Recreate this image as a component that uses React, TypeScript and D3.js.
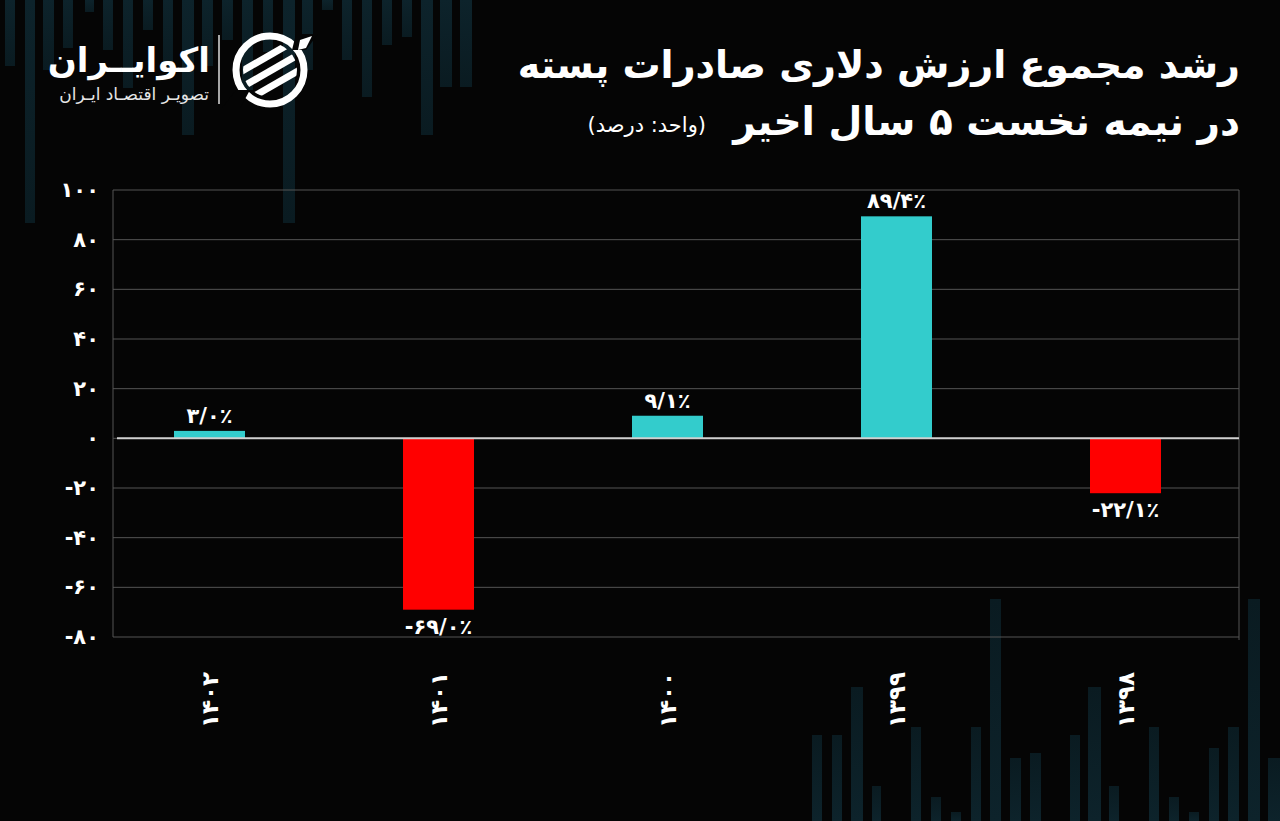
import React from "react";
import * as d3 from "d3";

const categories = ["۱۴۰۲", "۱۴۰۱", "۱۴۰۰", "۱۳۹۹", "۱۳۹۸"];
const values = [3.0, -69.0, 9.1, 89.4, -22.1];
const valueLabels = ["۳/۰٪", "-۶۹/۰٪", "۹/۱٪", "۸۹/۴٪", "-۲۲/۱٪"];
const yTicks = [100, 80, 60, 40, 20, 0, -20, -40, -60, -80];

const titleLine1 = "رشد مجموع ارزش دلاری صادرات پسته";
const titleLine2 = "در نیمه نخست ۵ سال اخیر";
const unitText = "(واحد: درصد)";
const brandName = "اکوایــران";
const brandSub = "تصویـر اقتصـاد ایـران";

// decorative background stripes: [x, width, extent]
const topStripes: [number, number, number][] = [
  [5, 10, 66], [25, 10, 223], [43, 11, 70], [63, 10, 48], [85, 9, 12],
  [103, 10, 50], [123, 10, 88], [143, 10, 30], [163, 10, 67], [182, 12, 135],
  [202, 11, 66], [222, 11, 40], [242, 11, 90], [263, 10, 52], [283, 12, 223],
  [302, 11, 70], [322, 11, 10], [342, 10, 60], [362, 10, 97], [382, 10, 45],
  [402, 10, 37], [421, 12, 135], [440, 12, 87], [460, 12, 87],
];
const bottomStripes: [number, number, number][] = [
  [812, 10, 735], [832, 10, 735], [851, 12, 687], [872, 9, 786], [911, 10, 727],
  [931, 10, 797], [951, 10, 812], [971, 10, 727], [990, 11, 599], [1010, 11, 758],
  [1030, 11, 753], [1070, 10, 735], [1088, 13, 687], [1109, 10, 786], [1149, 10, 727],
  [1169, 10, 797], [1189, 10, 812], [1209, 10, 748], [1228, 11, 727], [1248, 12, 599],
  [1268, 12, 758],
];

const toFa = (s: string) => s.replace(/\d/g, (d) => "۰۱۲۳۴۵۶۷۸۹"[+d]);

const W = 1280;
const H = 821;
const plotLeft = 113;
const plotRight = 1239;
const plotTop = 190;
const plotBottom = 637;

const FONT = "'DejaVu Sans', sans-serif";

export default function App() {
  const y = d3.scaleLinear().domain([-80, 100]).range([plotBottom, plotTop]);
  const x = d3.scaleBand<string>().domain(categories).range([95, 1240]).padding(0);
  const barW = x.bandwidth() * 0.31;

  return (
    <svg
      width={W}
      height={H}
      style={{ position: "absolute", left: 0, top: 0, background: "#050505" }}
    >
      <rect x={0} y={0} width={W} height={H} fill="#050505" />
      <defs>
        <linearGradient id="stripeTop" x1="0" y1="0" x2="0" y2="1">
          <stop offset="0" stopColor="#0d232b" />
          <stop offset="1" stopColor="#0a1b21" />
        </linearGradient>
        <linearGradient id="stripeBottom" x1="0" y1="1" x2="0" y2="0">
          <stop offset="0" stopColor="#0d232b" />
          <stop offset="1" stopColor="#0a1b21" />
        </linearGradient>
        <clipPath id="innerClip">
          <circle cx={270} cy={70} r={27} />
        </clipPath>
      </defs>

      {topStripes.map(([sx, sw, len], i) => (
        <rect key={"t" + i} x={sx} y={0} width={sw} height={len} fill="url(#stripeTop)" />
      ))}
      {bottomStripes.map(([sx, sw, top], i) => (
        <rect key={"b" + i} x={sx} y={top} width={sw} height={H - top} fill="url(#stripeBottom)" />
      ))}

      {/* brand */}
      <g>
        <text
          x={210}
          y={72}
          textAnchor="start"
          direction="rtl"
          fill="#fff"
          fontFamily={FONT}
          fontWeight="bold"
          fontSize={34}
        >
          {brandName}
        </text>
        <text
          x={209}
          y={100}
          textAnchor="start"
          direction="rtl"
          fill="#e6e6e6"
          fontFamily={FONT}
          fontSize={17}
        >
          {brandSub}
        </text>
        <line x1={219} x2={219} y1={35} y2={104} stroke="#ddd" strokeWidth={1.5} />
        {/* icon */}
        <circle cx={270} cy={70} r={34} fill="none" stroke="#fff" strokeWidth={7} />
        <g clipPath="url(#innerClip)">
          {[-16, 0, 16].map((o, i) => (
            <polygon
              key={i}
              points={`${230},${90 + o} ${310},${44 + o} ${310},${52 + o} ${230},${98 + o}`}
              fill="#fff"
            />
          ))}
        </g>
        <polygon points="296,34 318,34 306,50 292,50" fill="#050505" />
        <polygon points="236,90 250,90 240,108 222,108" fill="#050505" />
        <polygon points="300,40 312,36 306,48 298,50" fill="#fff" />
      </g>

      {/* title */}
      <text
        x={1240}
        y={78}
        textAnchor="start"
        direction="rtl"
        fill="#fff"
        fontFamily={FONT}
        fontWeight="bold"
        fontSize={38}
      >
        {titleLine1}
      </text>
      <text
        x={1240}
        y={135}
        textAnchor="start"
        direction="rtl"
        fill="#fff"
        fontFamily={FONT}
        fontWeight="bold"
        fontSize={39}
      >
        {titleLine2}
      </text>
      <text
        x={706}
        y={132}
        textAnchor="start"
        direction="rtl"
        fill="#fff"
        fontFamily={FONT}
        fontSize={21}
      >
        {unitText}
      </text>

      {/* grid */}
      {yTicks.map((t) => (
        <line
          key={"g" + t}
          x1={plotLeft}
          x2={plotRight}
          y1={y(t)}
          y2={y(t)}
          stroke="#555"
          strokeWidth={1}
        />
      ))}
      <line x1={plotLeft} x2={plotLeft} y1={plotTop} y2={plotBottom} stroke="#555" />
      <line x1={plotRight} x2={plotRight} y1={plotTop} y2={plotBottom + 3} stroke="#555" />

      {/* y labels */}
      {yTicks.map((t) => (
        <text
          key={"yl" + t}
          x={99}
          y={y(t)}
          textAnchor="end"
          dominantBaseline="central"
          direction="ltr"
          fill="#fff"
          fontFamily={FONT}
          fontWeight="bold"
          fontSize={21}
        >
          {toFa(String(t))}
        </text>
      ))}

      {/* bars */}
      {categories.map((c, i) => {
        const v = values[i];
        const cx = (x(c) as number) + x.bandwidth() / 2;
        const y0 = y(0);
        const y1 = y(v);
        return (
          <g key={c}>
            <rect
              x={cx - barW / 2}
              y={Math.min(y0, y1)}
              width={barW}
              height={Math.abs(y1 - y0)}
              fill={v >= 0 ? "#33cccc" : "#ff0000"}
            />
            <text
              x={cx}
              y={v >= 0 ? y1 - 8 : y1 + 24}
              textAnchor="middle"
              direction="ltr"
              fill="#fff"
              fontFamily={FONT}
              fontWeight="bold"
              fontSize={21}
            >
              {valueLabels[i]}
            </text>
            <text
              transform={`translate(${cx},700) rotate(-90)`}
              textAnchor="middle"
              dominantBaseline="central"
              direction="ltr"
              fill="#fff"
              fontFamily={FONT}
              fontWeight="bold"
              fontSize={23}
            >
              {c}
            </text>
          </g>
        );
      })}

      {/* zero line */}
      <line x1={117} x2={plotRight} y1={y(0)} y2={y(0)} stroke="#d0d0d0" strokeWidth={2} />
    </svg>
  );
}
